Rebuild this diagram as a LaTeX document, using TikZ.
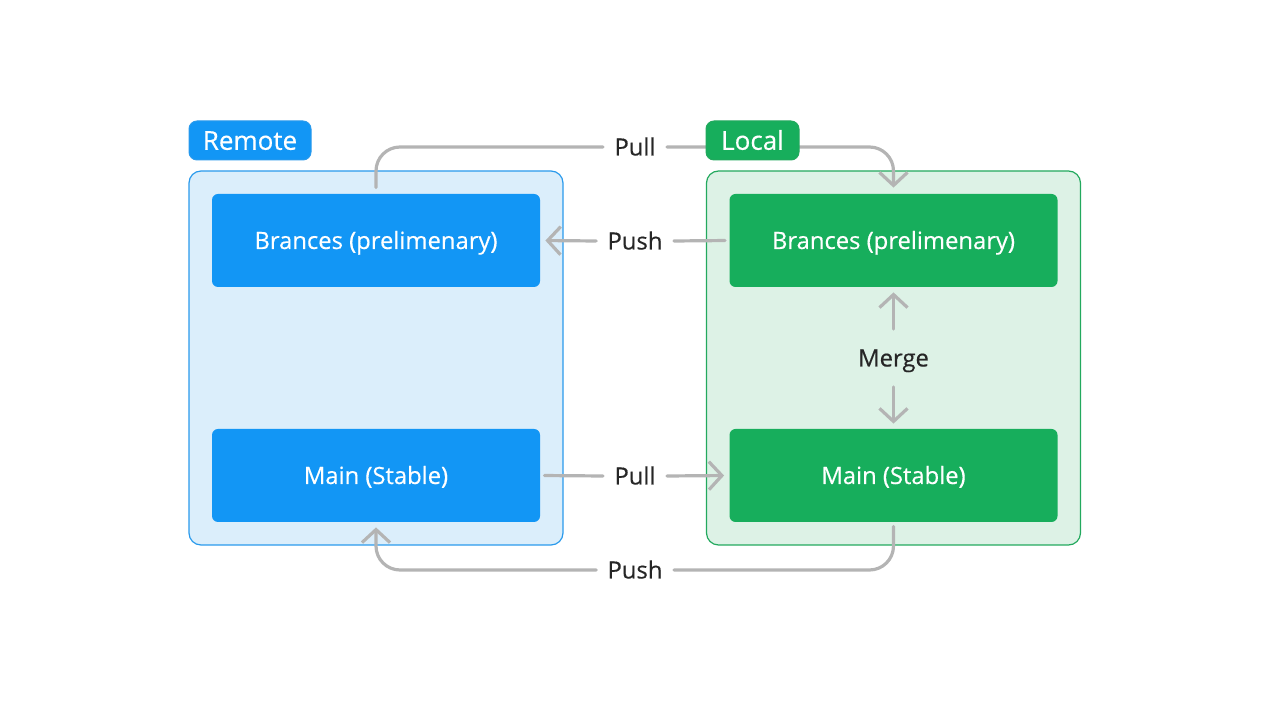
\documentclass[tikz,border=0pt]{standalone}
\usepackage{fontspec}
\setmainfont{Open Sans}
\newfontfamily\medfont[FakeBold=0.35]{Open Sans}
\usetikzlibrary{arrows.meta}
\definecolor{rblue}{HTML}{1296F5}
\definecolor{rbluebg}{HTML}{DBEEFB}
\definecolor{rblueln}{HTML}{2A9AEC}
\definecolor{lgreen}{HTML}{17AE5C}
\definecolor{lgreenbg}{HTML}{DDF2E6}
\definecolor{lgreenln}{HTML}{23A95E}
\definecolor{flowgray}{HTML}{B4B4B4}
\definecolor{txtdark}{HTML}{262626}
\begin{document}
\begin{tikzpicture}[x=0.5pt,y=-0.5pt,
  frame/.style={draw,line width=0.6pt,rounded corners=6pt,minimum width=187pt,minimum height=187pt},
  box/.style={rounded corners=3pt,minimum width=164pt,minimum height=46.5pt,text=white,text height=8.5pt,text depth=0pt,font=\medfont\fontsize{11.9}{13}\selectfont},
  tag/.style={rounded corners=4pt,draw,line width=0.5pt,minimum height=19.5pt,text=white,text height=9.3pt,text depth=0pt,font=\medfont\fontsize{13}{14}\selectfont},
  lbl/.style={text=txtdark,inner xsep=5.5pt,inner ysep=6pt,text height=8.5pt,text depth=0pt,font=\medfont\fontsize{11.9}{13}\selectfont},
  flow/.style={draw=flowgray,line width=1.6pt,line cap=round,rounded corners=12pt,-{Straight Barb[length=6.5pt,width=14pt]}}]
\useasboundingbox (0,0) rectangle (1270,715);
% containers
\node[frame,draw=rblueln,fill=rbluebg] (remote) at (376,358) {};
\node[frame,draw=lgreenln,fill=lgreenbg] (local) at (893.5,358) {};
% boxes
\node[box,fill=rblue] (rb) at (376,240.5) {Brances (prelimenary)};
\node[box,fill=rblue] (rm) at (376,475.5) {Main (Stable)};
\node[box,fill=lgreen] (lb) at (893.5,240.5) {Brances (prelimenary)};
\node[box,fill=lgreen] (lm) at (893.5,475.5) {Main (Stable)};
% labels
\node[lbl] (pullT) at (635,147) {Pull};
\node[lbl] (pushT) at (635,241) {Push};
\node[lbl,inner ysep=10pt] (merge) at (893.5,358) {Merge};
\node[lbl] (pullB) at (635,476) {Pull};
\node[lbl] (pushB) at (635,570) {Push};
% connectors
\path[flow,-,shorten <=3pt] (rb.north) |- (pullT.west);
\path[flow,shorten >=3pt] (pullT.east) -| (lb.north);
\path[flow,-,shorten <=2pt] (lb.west) -- (pushT.east);
\path[flow,shorten >=2.5pt] (pushT.west) -- (rb.east);
\path[flow,shorten >=2.5pt] (merge.north) -- (lb.south);
\path[flow,shorten >=2.5pt] (merge.south) -- (lm.north);
\path[flow,-,shorten <=2pt] (rm.east) -- (pullB.west);
\path[flow,shorten >=2.5pt] (pullB.east) -- (lm.west);
\path[flow,-,shorten <=2pt] (lm.south) |- (pushB.east);
\path[flow,shorten >=2.5pt] (pushB.west) -| (rm.south);
% tags
\node[tag,draw=rblueln,fill=rblue,minimum width=61pt] (rtag) at (250,140.5) {Remote};
\node[tag,draw=lgreenln,fill=lgreen,minimum width=46.5pt] (ltag) at (752.5,140.5) {Local};
\end{tikzpicture}
\end{document}
